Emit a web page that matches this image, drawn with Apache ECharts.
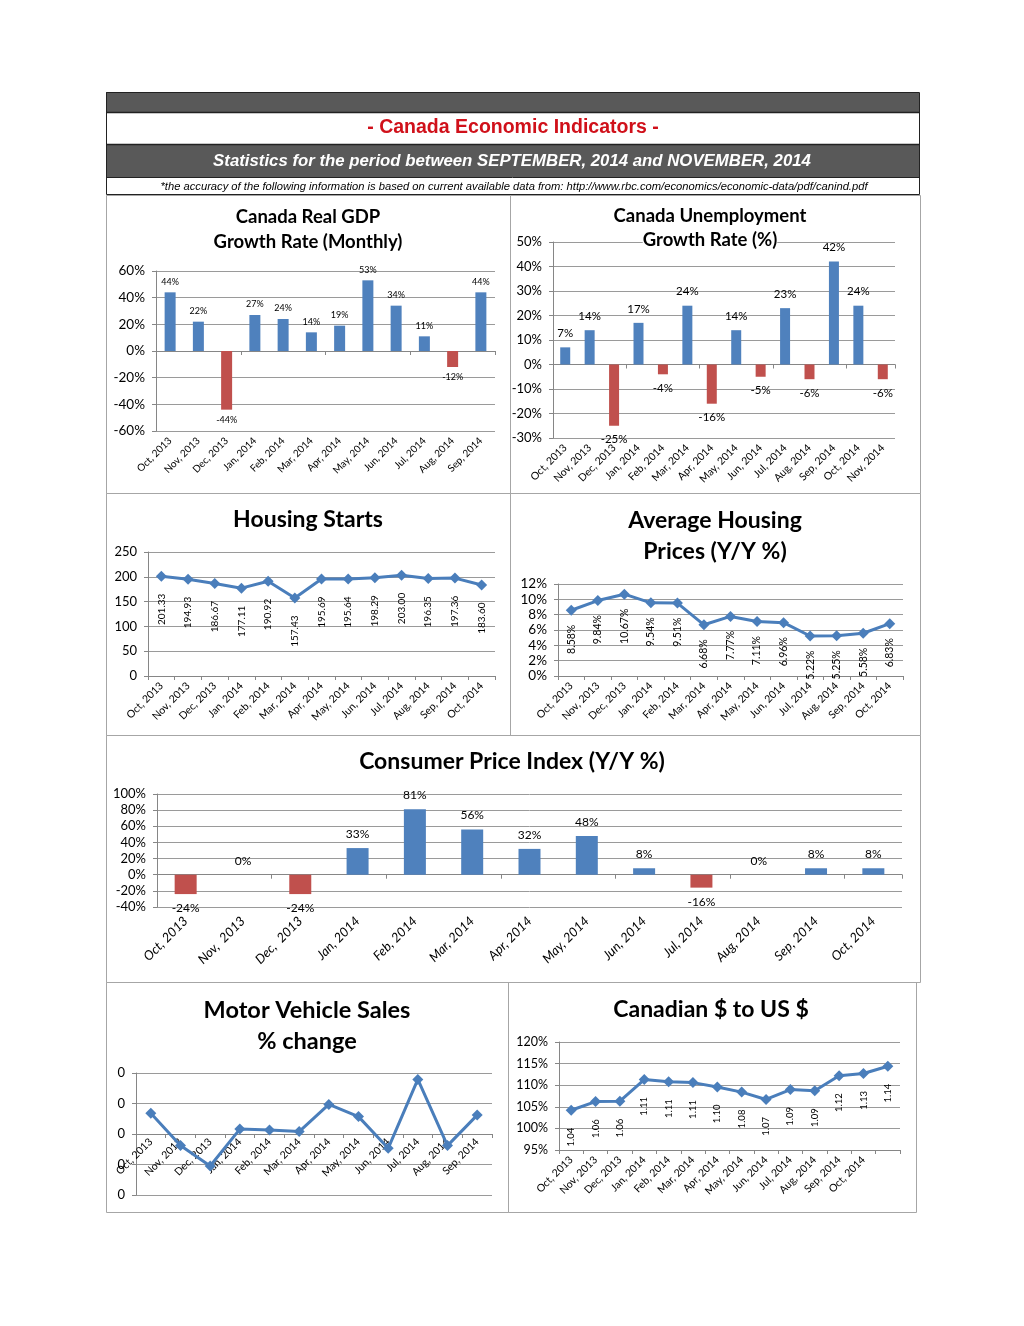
<!DOCTYPE html>
<html>
<head>
<meta charset="utf-8">
<title>Canada Economic Indicators</title>
<script src="https://cdn.jsdelivr.net/npm/echarts@6/dist/echarts.min.js"></script>
<style>
    html, body { margin: 0; padding: 0; background: #fff; }
    #main { width: 1024px; height: 1326px; }
</style>
</head>
<body>
<div id="main"></div>
<script>
// ---- data ----
const gdpMonths = ['Oct, 2013', 'Nov, 2013', 'Dec, 2013', 'Jan, 2014', 'Feb, 2014', 'Mar, 2014',
    'Apr, 2014', 'May, 2014', 'Jun, 2014', 'Jul, 2014', 'Aug, 2014', 'Sep, 2014']
const gdpGrowth = [44, 22, -44, 27, 24, 14, 19, 53, 34, 11, -12, 44]

const unempMonths = ['Oct, 2013', 'Nov, 2013', 'Dec, 2013', 'Jan, 2014', 'Feb, 2014', 'Mar, 2014', 'Apr, 2014',
    'May, 2014', 'Jun, 2014', 'Jul, 2014', 'Aug, 2014', 'Sep, 2014', 'Oct, 2014', 'Nov, 2014']
const unempGrowth = [7, 14, -25, 17, -4, 24, -16, 14, -5, 23, -6, 42, 24, -6]

const housingMonths = ['Oct, 2013', 'Nov, 2013', 'Dec, 2013', 'Jan, 2014', 'Feb, 2014', 'Mar, 2014', 'Apr, 2014',
    'May, 2014', 'Jun, 2014', 'Jul, 2014', 'Aug, 2014', 'Sep, 2014', 'Oct, 2014']
const housingStarts = [201.33, 194.93, 186.67, 177.11, 190.92, 157.43, 195.69, 195.64, 198.29, 203.00, 196.35, 197.36, 183.60]
const housingPrices = [8.58, 9.84, 10.67, 9.54, 9.51, 6.68, 7.77, 7.11, 6.96, 5.22, 5.25, 5.58, 6.83]

const cpiMonths = ['Oct, 2013', 'Nov,  2013', 'Dec,  2013', 'Jan, 2014', 'Feb, 2014', 'Mar, 2014', 'Apr, 2014',
    'May, 2014', 'Jun, 2014', 'Jul, 2014', 'Aug, 2014', 'Sep, 2014', 'Oct, 2014']
const cpiChange = [-24, 0, -24, 33, 81, 56, 32, 48, 8, -16, 0, 8, 8]

const vehicleMonths = ['Oct, 2013', 'Nov, 2013', 'Dec, 2013', 'Jan, 2014', 'Feb, 2014', 'Mar, 2014',
    'Apr, 2014', 'May, 2014', 'Jun, 2014', 'Jul, 2014', 'Aug, 2014', 'Sep, 2014']
const vehicleChange = [0.0068, -0.0038, -0.0105, 0.0016, 0.0013, 0.0008, 0.0097, 0.0057, -0.0047, 0.0179, -0.0038, 0.0062]

const cadMonths = ['Oct, 2013', 'Nov, 2013', 'Dec, 2013', 'Jan, 2014', 'Feb, 2014', 'Mar, 2014', 'Apr, 2014',
    'May, 2014', 'Jun, 2014', 'Jul, 2014', 'Aug, 2014', 'Sep, 2014', 'Oct, 2014', '']
const cadToUsd = [1.042, 1.062, 1.063, 1.113, 1.108, 1.106, 1.096, 1.084, 1.067, 1.090, 1.087, 1.122, 1.127, 1.144]

// value axis ranges [min, max, interval]
const gdpRange = [-60, 60, 20]
const unempRange = [-30, 50, 10]
const housingRange = [0, 250, 50]
const priceRange = [0, 12, 2]
const cpiRange = [-40, 100, 20]
const vehicleRange = [-0.02, 0.02, 0.01]
const cadRange = [0.95, 1.2, 0.05]

// ---- styles ----
const blue = '#4F81BD'
const red = '#C0504D'
const lineBlue = '#4A7EBB'
const axisGray = '#868686'
const gridGray = '#9a9a9a'
const panelGray = '#a6a6a6'
const dark = '#595959'
const font = 'Lato, "Open Sans", sans-serif'
const arial = '"Liberation Sans", Arial, sans-serif'

// grid boxes [left, top, width, height]
const grids = [
    [156, 271, 339, 160],
    [553, 242, 342, 196],
    [148, 552, 347, 124],
    [558, 584, 345, 92],
    [157, 794, 745, 113],
    [136, 1073, 356, 122],
    [559, 1042, 341, 108]
]

const pct = (v) => v + '%'

// how far above the bottom of a grid the value 0 sits (negative offset moves a bottom axis up)
const zeroOffset = (range, gi) => -grids[gi][3] * (0 - range[0]) / (range[1] - range[0])

const catAxis = (gi, cats, size, extra) => Object.assign({
    type: 'category',
    gridIndex: gi,
    data: cats,
    position: 'bottom',
    axisLine: { onZero: false, show: true, lineStyle: { color: axisGray } },
    axisTick: { show: true, length: 4, lineStyle: { color: axisGray } },
    axisLabel: { interval: 0, rotate: 45, fontSize: size, color: '#000', fontFamily: font, margin: 8 }
}, extra || {})

// extra axis that only draws the zero line with its ticks (labels stay at the bottom)
const zeroAxis = (gi, cats, range) => ({
    type: 'category',
    gridIndex: gi,
    data: cats,
    position: 'bottom',
    offset: zeroOffset(range, gi),
    axisLine: { onZero: false, lineStyle: { color: axisGray } },
    axisTick: { show: true, length: 4, lineStyle: { color: axisGray } },
    axisLabel: { show: false }
})

const valAxis = (gi, range, formatter, size) => ({
    type: 'value',
    gridIndex: gi,
    min: range[0],
    max: range[1],
    interval: range[2],
    axisLine: { show: true, lineStyle: { color: axisGray } },
    axisTick: { show: true, length: 4, lineStyle: { color: axisGray } },
    splitLine: { show: true, lineStyle: { color: gridGray, width: 1 } },
    axisLabel: { formatter: formatter, fontSize: size || 12, color: '#000', fontFamily: font, margin: 11 }
})

const barData = (values) => values.map((v) => ({
    value: v,
    itemStyle: { color: v < 0 ? red : blue },
    label: { position: v < 0 ? 'bottom' : 'top' }
}))

const lineSeries = (xi, yi, values, label) => ({
    type: 'line',
    xAxisIndex: xi,
    yAxisIndex: yi,
    data: values,
    symbol: 'diamond',
    symbolSize: 11,
    lineStyle: { color: lineBlue, width: 3 },
    itemStyle: { color: lineBlue },
    label: label ? Object.assign({
        show: true, position: 'bottom', rotate: 90, align: 'right', verticalAlign: 'middle',
        color: '#000', fontFamily: font
    }, label) : { show: false }
})

const titleText = (text, x, y, size, lh, bg) => ({
    type: 'text',
    x: x, y: y,
    z: 100,
    style: {
        text: text, align: 'center', verticalAlign: 'middle',
        fontFamily: font, fontWeight: 'bold', fontSize: size, lineHeight: lh || size, fill: '#000',
        backgroundColor: bg || 'transparent'
    }
})

const box = (x, y, w, h, stroke) => ({
    type: 'rect',
    shape: { x: x + 0.5, y: y + 0.5, width: w, height: h },
    style: { fill: 'none', stroke: stroke, lineWidth: 1 }
})

const chart = echarts.init(document.getElementById('main'))

const option = {
    animation: false,
    backgroundColor: '#fff',
    textStyle: { fontFamily: font },
    graphic: [
        // header block
        { type: 'rect', shape: { x: 106, y: 92, width: 813, height: 20 }, style: { fill: dark } },
        { type: 'rect', shape: { x: 106, y: 144, width: 813, height: 33 }, style: { fill: dark } },
        box(106, 92, 813, 102, '#222'),
        { type: 'line', shape: { x1: 106, y1: 112.5, x2: 919, y2: 112.5 }, style: { stroke: '#222', lineWidth: 1.5 } },
        { type: 'line', shape: { x1: 106, y1: 144.5, x2: 919, y2: 144.5 }, style: { stroke: '#222', lineWidth: 1.5 } },
        { type: 'line', shape: { x1: 106, y1: 177.5, x2: 919, y2: 177.5 }, style: { stroke: '#222', lineWidth: 1 } },
        {
            type: 'text', x: 513, y: 128,
            style: {
                text: '- Canada Economic Indicators -', align: 'center', verticalAlign: 'middle',
                fontFamily: arial, fontWeight: 'bold', fontSize: 19.5, fill: '#D0101A'
            }
        },
        {
            type: 'text', x: 512, y: 161,
            style: {
                text: 'Statistics for the period between SEPTEMBER, 2014 and NOVEMBER, 2014', align: 'center', verticalAlign: 'middle',
                fontFamily: arial, fontWeight: 'bold', fontStyle: 'italic', fontSize: 16.8, fill: '#fff'
            }
        },
        {
            type: 'text', x: 514, y: 187,
            style: {
                text: '*the accuracy of the following information is based on current available data from: http://www.rbc.com/economics/economic-data/pdf/canind.pdf',
                align: 'center', verticalAlign: 'middle',
                fontFamily: arial, fontStyle: 'italic', fontSize: 11.2, fill: '#000'
            }
        },
        // panel frames
        box(106, 195, 404, 298, panelGray),
        box(510, 195, 410, 298, panelGray),
        box(106, 493, 404, 242, panelGray),
        box(510, 493, 410, 242, panelGray),
        box(106, 735, 814, 247, panelGray),
        box(106, 982, 402, 230, panelGray),
        box(508, 982, 408, 230, panelGray),
        // chart titles
        titleText('Canada Real GDP\nGrowth Rate (Monthly)', 308, 230, 18.5, 25),
        titleText('Canada Unemployment', 710, 216, 18.5),
        titleText('Growth Rate (%)', 710, 240, 18.5, 22, '#fff'),
        titleText('Housing Starts', 308, 520, 23),
        titleText('Average Housing\nPrices (Y/Y %)', 715, 536, 23, 31),
        titleText('Consumer Price Index (Y/Y %)', 512, 762, 23),
        titleText('Motor Vehicle Sales\n% change', 307, 1026, 23.5, 31),
        titleText('Canadian $ to US $', 711, 1010, 23)
    ],
    grid: grids.map((g) => ({ left: g[0], top: g[1], width: g[2], height: g[3], outerBoundsMode: 'none' })),
    xAxis: [
        catAxis(0, gdpMonths, 10, { axisLine: { show: false, onZero: false }, axisTick: { show: false } }),
        zeroAxis(0, gdpMonths, gdpRange),
        catAxis(1, unempMonths, 10.5, { axisLine: { show: false, onZero: false }, axisTick: { show: false } }),
        zeroAxis(1, unempMonths, unempRange),
        catAxis(2, housingMonths, 10.5),
        catAxis(3, housingMonths, 10.5),
        catAxis(4, cpiMonths, 13, {
            axisLine: { show: false, onZero: false }, axisTick: { show: false },
            axisLabel: { interval: 0, rotate: 45, fontSize: 13, fontStyle: 'italic', color: '#000', fontFamily: font, margin: 12 }
        }),
        zeroAxis(4, cpiMonths, cpiRange),
        // motor vehicle: axis and its labels sit on the zero line
        catAxis(5, vehicleMonths, 10.5, {
            offset: zeroOffset(vehicleRange, 5),
            axisLabel: { interval: 0, rotate: 45, fontSize: 10.5, color: '#000', fontFamily: font, margin: 6 }
        }),
        catAxis(6, cadMonths, 10.5)
    ],
    yAxis: [
        valAxis(0, gdpRange, pct, 13.5),
        valAxis(1, unempRange, pct, 13),
        valAxis(2, housingRange, null, 13),
        valAxis(3, priceRange, pct, 13.5),
        valAxis(4, cpiRange, pct, 13),
        valAxis(5, vehicleRange, (v) => Math.round(v).toFixed(0), 13),
        valAxis(6, cadRange, (v) => Math.round(v * 100) + '%', 12.5)
    ],
    series: [
        {
            type: 'bar', xAxisIndex: 0, yAxisIndex: 0, barWidth: 11,
            data: barData(gdpGrowth),
            label: { show: true, formatter: (p) => p.value + '%', fontSize: 9, color: '#000', fontFamily: font, distance: 6 }
        },
        {
            type: 'bar', xAxisIndex: 2, yAxisIndex: 1, barWidth: 10,
            data: barData(unempGrowth),
            label: { show: true, formatter: (p) => p.value + '%', fontSize: 11.5, color: '#000', fontFamily: font, distance: 8 }
        },
        lineSeries(4, 2, housingStarts, { fontSize: 10, distance: 12, formatter: (p) => p.value.toFixed(2) }),
        lineSeries(5, 3, housingPrices, { fontSize: 10.5, distance: 9, formatter: (p) => p.value.toFixed(2) + '%' }),
        {
            type: 'bar', xAxisIndex: 6, yAxisIndex: 4, barWidth: 22,
            data: barData(cpiChange),
            label: { show: true, formatter: (p) => p.value + '%', fontSize: 12, color: '#000', fontFamily: font, distance: 8 }
        },
        lineSeries(8, 5, vehicleChange, null),
        lineSeries(9, 6, cadToUsd, { fontSize: 9.5, distance: 12, formatter: (p) => p.value.toFixed(2) })
    ]
}

chart.setOption(option)
</script>
</body>
</html>
